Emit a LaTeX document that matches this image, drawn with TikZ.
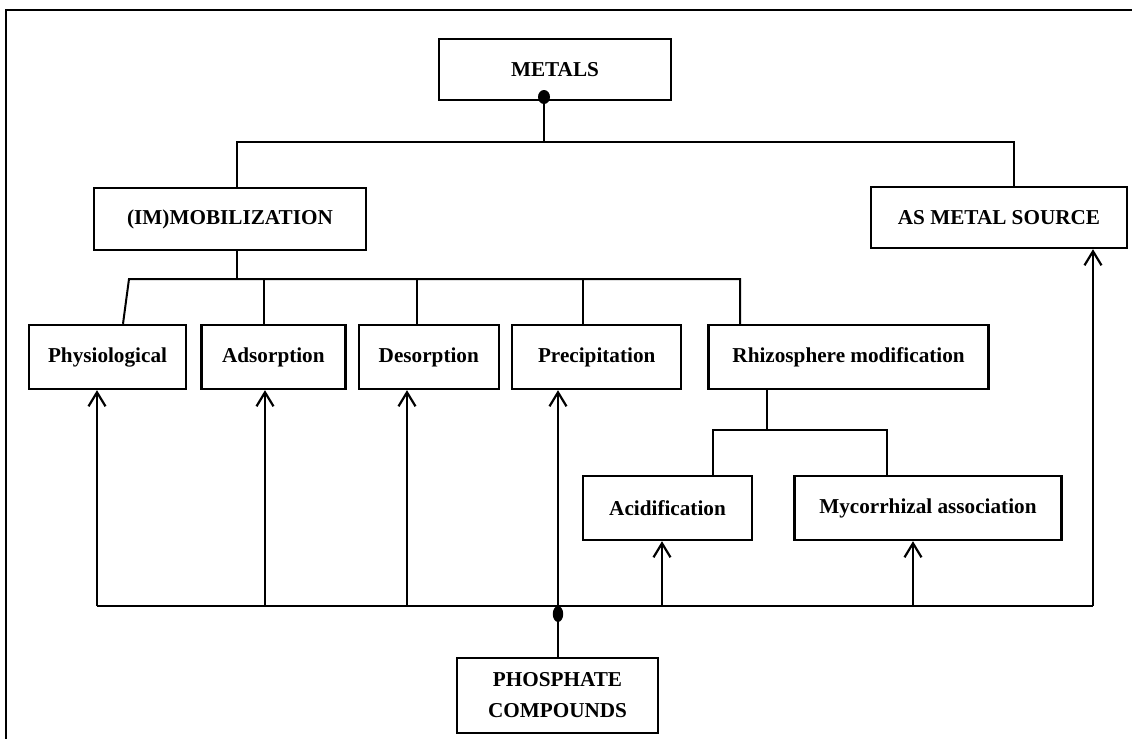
\documentclass[tikz,border=0pt]{standalone}
\usepackage{fontspec}
\setmainfont{Liberation Serif}
\usetikzlibrary{positioning,arrows.meta}

\begin{document}
\begin{tikzpicture}[
    x=0.5pt, y=-0.5pt,
    box/.style={draw, line width=1.2pt, minimum height=32pt, inner sep=2pt, align=center,
                font=\fontsize{10.6}{12.5}\selectfont\bfseries},
    link/.style={line width=1pt},
    thinlink/.style={line width=0.6pt},
    feed/.style={thinlink, -{Straight Barb[length=7pt,width=8.5pt,line width=1.1pt]}},
    mainfeed/.style={link, -{Straight Barb[length=7pt,width=8.5pt,line width=1.1pt]}}
]
    \useasboundingbox (0,0) rectangle (1132,739);
    \draw[line width=0.6pt] (1132,10) -| (6,739);

    % top levels
    \node[box, minimum width=116pt, minimum height=30.5pt] (metals) at (555,69.5) {METALS};
    \node[box, minimum width=136pt, minimum height=31pt] (immob) at (230,219) {(IM)MOBILIZATION};
    \node[box, minimum width=128pt, minimum height=30.5pt] (asmetal) at (999,217.5) {AS METAL SOURCE};

    % row of mechanisms
    \node[box, minimum width=78.5pt] (physio) at (107.5,357) {Physiological};
    \node[box, minimum width=72pt, right=6.5pt of physio] (adsorp) {Adsorption};
    \node[box, minimum width=70pt, right=5.5pt of adsorp] (desorp) {Desorption};
    \node[box, minimum width=84.5pt, right=5.5pt of desorp] (precip) {Precipitation};
    \node[box, minimum width=140pt, right=12.5pt of precip] (rhizo) {Rhizosphere modification};

    \node[box, minimum width=84.5pt] (acid) at (667.5,508) {Acidification};
    \node[box, minimum width=133.5pt, right=20pt of acid] (myco) {Mycorrhizal association};

    \node[box, minimum width=100.5pt, minimum height=37.5pt,
          font=\fontsize{10.6}{15.5}\selectfont\bfseries] (phos) at (557.5,695.5) {PHOSPHATE\\COMPOUNDS};

    % metals tree
    \coordinate (mdot) at (544,97);
    \coordinate (top) at (544,142);
    \coordinate (topl) at (237,142);
    \coordinate (topr) at (1014,142);
    \draw[link] (mdot) -- (top);
    \draw[link] (immob.north -| topl) -- (topl) -- (topr) -- (asmetal.north -| topr);
    \fill (mdot) ellipse (3pt and 3.5pt);

    % (im)mobilization tree
    \coordinate (mid) at (237,279);
    \coordinate (dphysio) at (129,279);
    \coordinate (drhizo) at (740,279);
    \draw[link] (immob.south -| mid) -- (mid);
    \draw[link] ([xshift=7.75pt]physio.north) -- (dphysio) -- (drhizo) -- (rhizo.north -| drhizo);
    \foreach \n/\x in {adsorp/264, desorp/417, precip/583} {
        \coordinate (d\n) at (\x,279);
        \draw[link] (d\n) -- (\n.north -| d\n);
    }

    % rhizosphere tree
    \coordinate (low) at (767,430);
    \coordinate (lowl) at (713,430);
    \coordinate (lowr) at (887,430);
    \draw[link] (rhizo.south -| low) -- (low);
    \draw[link] (acid.north -| lowl) -- (lowl) -- (lowr) -- (myco.north -| lowr);

    % phosphate feeds
    \foreach \n/\x in {physio/97, adsorp/265, desorp/407, acid/662, myco/913, asmetal/1093} {
        \coordinate (f\n) at (\x,606);
        \draw[feed] (f\n) -- (\n.south -| f\n);
    }
    \draw[thinlink] (fphysio) -- (fasmetal);

    \coordinate (pdot) at (558,614);
    \draw[mainfeed] (phos.north -| pdot) -- (precip.south -| pdot);
    \fill (pdot) ellipse (2.6pt and 4pt);
\end{tikzpicture}
\end{document}
